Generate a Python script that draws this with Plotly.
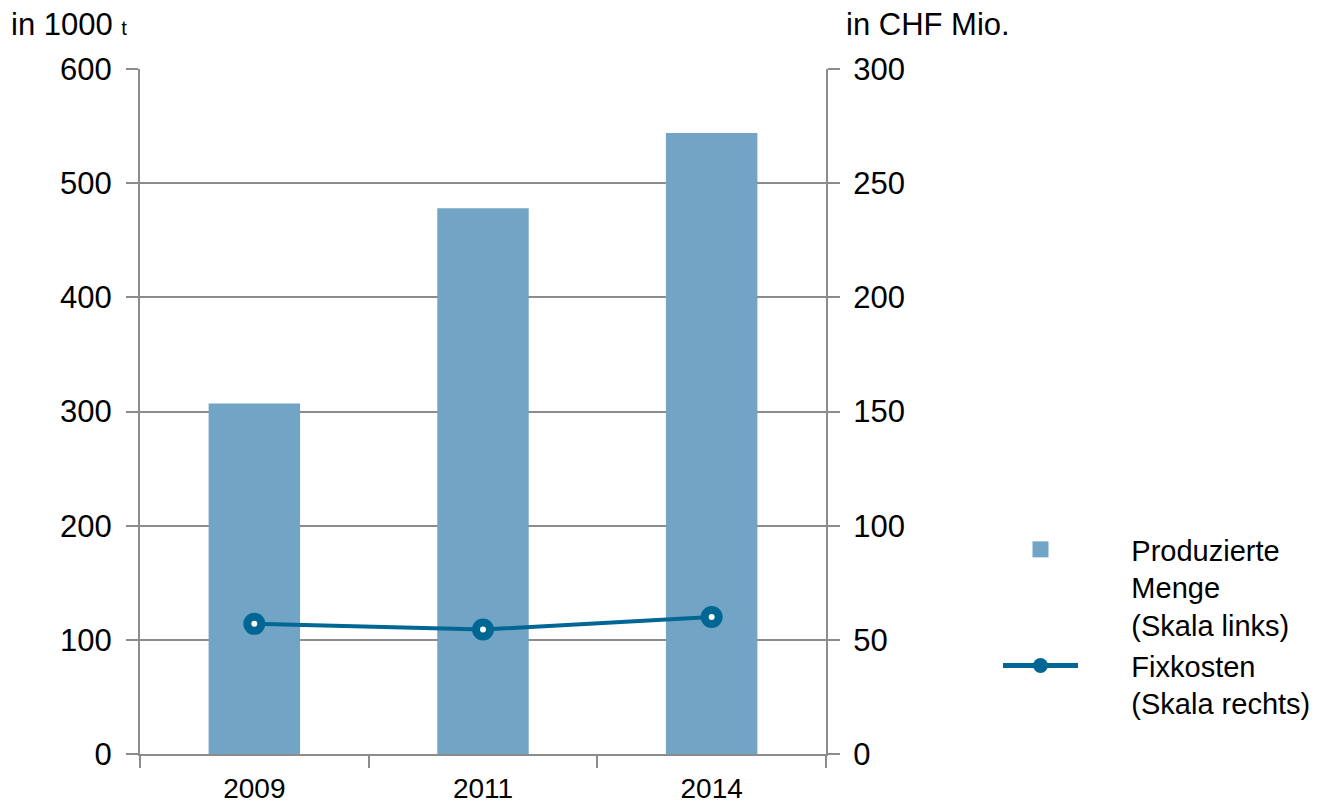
import plotly.graph_objects as go

years = ["2009", "2011", "2014"]
menge = [307, 478, 544]          # in 1000 t (left scale)
fixkosten = [57, 54.5, 60]       # in CHF Mio. (right scale)
left_ticks = [0, 100, 200, 300, 400, 500, 600]
right_ticks = [0, 50, 100, 150, 200, 250, 300]
legend_bar = ["Produzierte", "Menge", "(Skala links)"]
legend_line = ["Fixkosten", "(Skala rechts)"]

BAR_COLOR = "#72A4C5"
LINE_COLOR = "#006794"
GRID = "#8C8C8C"
FONT = "Liberation Sans, Arial, sans-serif"
PAD = "&nbsp;" * 6


def legend_name(lines):
    return "<br>".join(PAD + s for s in lines)


fig = go.Figure()

fig.add_trace(go.Bar(
    x=years, y=menge, name=" ".join(legend_bar),
    marker=dict(color=BAR_COLOR, line=dict(width=0)), width=0.4,
    showlegend=False, yaxis="y",
))
fig.add_trace(go.Scatter(
    x=years, y=fixkosten, name=" ".join(legend_line),
    mode="lines+markers", yaxis="y2",
    line=dict(color=LINE_COLOR, width=4),
    marker=dict(symbol="circle", size=14, color="white",
                line=dict(color=LINE_COLOR, width=8)),
    showlegend=False,
))
# legend entries
fig.add_trace(go.Scatter(
    x=[None], y=[None], name=legend_name(legend_bar),
    mode="markers", marker=dict(symbol="square", size=24, color=BAR_COLOR),
    showlegend=True,
))
fig.add_trace(go.Scatter(
    x=[None], y=[None], name=legend_name(legend_line),
    mode="lines+markers", line=dict(color=LINE_COLOR, width=5),
    marker=dict(symbol="circle", size=15, color=LINE_COLOR),
    showlegend=True,
))

fig.update_layout(
    width=1324, height=798,
    margin=dict(l=132, r=506, t=61, b=52, autoexpand=False),
    paper_bgcolor="white", plot_bgcolor="white",
    font=dict(family=FONT, size=31, color="black"),
    xaxis=dict(
        type="category", range=[-0.5, 2.5], automargin=False,
        showline=True, linecolor=GRID, linewidth=2,
        ticks="outside", tickson="boundaries", ticklen=12, tickwidth=2, tickcolor=GRID,
        tickfont=dict(size=28),
        showgrid=False, zeroline=False, ticklabelstandoff=8,
    ),
    yaxis=dict(
        range=[0, 600], tickvals=left_ticks, automargin=False,
        showline=True, linecolor=GRID, linewidth=2,
        ticks="outside", ticklen=12, tickwidth=2, tickcolor=GRID,
        showgrid=True, gridcolor=GRID, gridwidth=2, zeroline=False,
        ticklabelstandoff=8,
    ),
    yaxis2=dict(
        range=[0, 300], tickvals=right_ticks, overlaying="y", side="right",
        automargin=False,
        showline=True, linecolor=GRID, linewidth=2,
        ticks="outside", ticklen=12, tickwidth=2, tickcolor=GRID,
        showgrid=False, zeroline=False, ticklabelstandoff=7,
    ),
    legend=dict(
        x=(990 - 132) / 686, xanchor="left", y=(754 - 524) / 685, yanchor="top",
        itemwidth=75, valign="top", font=dict(size=29),
        bgcolor="rgba(0,0,0,0)",
    ),
    annotations=[
        dict(text="in 1000 <span style='font-size:20px'>t</span>", xref="paper", yref="paper",
             x=(1 - 132) / 686, y=1 + (61 + 3) / 685, xanchor="left", yanchor="top",
             showarrow=False, font=dict(size=31)),
        dict(text="in CHF Mio.", xref="paper", yref="paper",
             x=(836 - 132) / 686, y=1 + (61 + 3) / 685, xanchor="left", yanchor="top",
             showarrow=False, font=dict(size=31)),
    ],
)

fig.write_html("out.html")
